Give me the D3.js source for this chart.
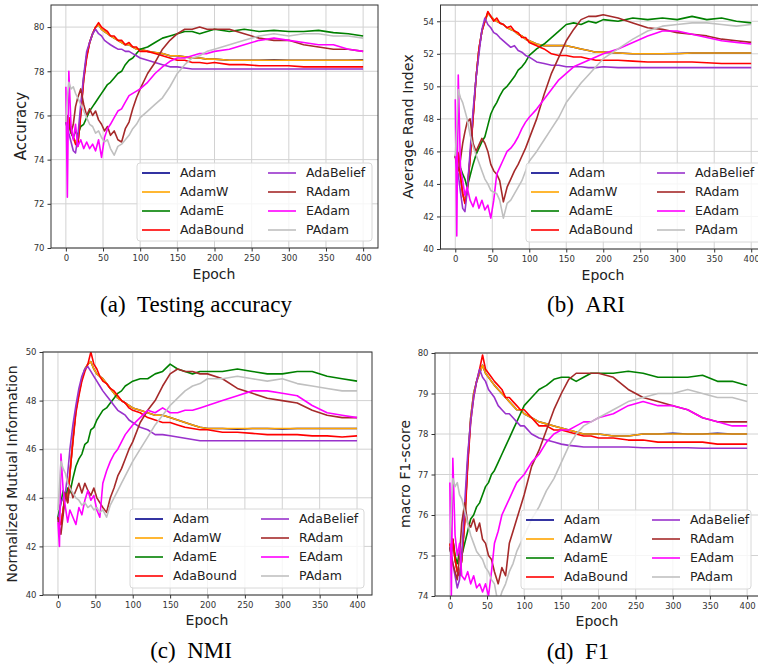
<!DOCTYPE html>
<html><head><meta charset="utf-8">
<script src="https://cdn.jsdelivr.net/npm/d3@7/dist/d3.min.js"></script>
<style>body{margin:0;background:#fff}svg{display:block}</style>
</head><body>
<svg id="chart" width="758" height="668"></svg>
<script>
// ---------- data ----------
const epochs = [0,2,4,7,10,13,16,20,24,28,32,36,40,44,48,52,56,60,65,70,75,80,85,90,95,100,110,120,130,140,150,160,170,180,190,200,220,240,260,280,300,320,340,360,380,400];
const optimizers = ["Adam","AdamW","AdamE","AdaBound","AdaBelief","RAdam","EAdam","PAdam"];
const xTicks = [0,50,100,150,200,250,300,350,400];
const yTicksAcc = [70,72,74,76,78,80];
const yTicksAri = [40,42,44,46,48,50,52,54];
const yTicksNmi = [40,42,44,46,48,50];
const yTicksF1 = [74,75,76,77,78,79,80];

// (a) Testing accuracy
const accAdam = [75.8,75.6,75.9,75.3,75.0,74.8,74.7,76.1,77.7,78.7,79.3,79.7,80.0,80.1,79.9,79.8,79.7,79.6,79.5,79.4,79.3,79.2,79.2,79.1,79.0,79.0,78.9,78.85,78.8,78.7,78.7,78.65,78.6,78.6,78.55,78.55,78.5,78.5,78.5,78.52,78.5,78.5,78.5,78.5,78.5,78.52];
const accAdamW = [75.8,75.6,75.9,75.3,75.0,74.8,74.7,76.2,77.7,78.7,79.3,79.7,80.0,80.1,79.9,79.8,79.7,79.6,79.5,79.4,79.3,79.2,79.2,79.1,79.0,79.0,78.9,78.85,78.8,78.7,78.7,78.65,78.6,78.6,78.55,78.55,78.5,78.5,78.5,78.5,78.5,78.5,78.5,78.5,78.5,78.5];
const accAdamE = [75.7,75.4,75.6,75.2,75.0,75.3,75.1,75.5,75.6,75.9,76.2,76.4,76.6,76.8,77.0,77.2,77.4,77.5,77.7,77.9,78.0,78.3,78.5,78.6,78.8,79.0,79.1,79.3,79.5,79.6,79.7,79.8,79.8,79.7,79.8,79.9,79.8,79.9,79.8,79.85,79.8,79.8,79.85,79.75,79.7,79.6];
const accAdaBound = [75.8,75.6,75.9,75.3,75.0,74.7,74.6,76.0,77.6,78.6,79.3,79.7,80.0,80.2,80.0,79.9,79.8,79.6,79.6,79.4,79.4,79.2,79.3,79.1,79.1,78.9,78.9,78.8,78.7,78.6,78.5,78.5,78.4,78.4,78.35,78.4,78.3,78.3,78.25,78.25,78.25,78.2,78.2,78.2,78.2,78.2];
const accAdaBelief = [75.7,75.5,75.2,74.8,74.4,74.3,75.0,76.5,77.8,78.9,79.3,79.7,79.9,79.7,79.6,79.4,79.3,79.2,79.1,79.0,79.0,78.9,78.9,78.8,78.7,78.6,78.5,78.4,78.3,78.2,78.2,78.15,78.1,78.1,78.1,78.1,78.1,78.1,78.1,78.1,78.1,78.1,78.1,78.1,78.1,78.1];
const accRAdam = [75.7,76.0,75.6,75.2,75.6,76.4,76.8,77.2,76.5,76.0,76.3,76.0,76.2,75.8,75.6,75.3,75.5,75.1,75.3,74.9,74.8,75.4,75.7,76.3,76.8,77.2,77.9,78.4,79.0,79.4,79.7,79.9,79.9,80.0,79.9,79.9,79.9,79.7,79.5,79.4,79.4,79.2,79.1,79.0,79.0,78.9];
const accEAdam = [77.3,72.3,78.0,75.5,74.9,75.6,74.6,74.9,74.5,74.8,74.5,74.7,74.4,74.9,74.1,75.0,75.4,75.6,75.9,76.2,76.3,76.6,76.9,77.0,77.1,77.2,77.5,77.9,78.2,78.45,78.6,78.6,78.7,78.8,78.8,78.9,79.0,79.2,79.4,79.5,79.4,79.3,79.2,79.2,79.0,78.9];
const accPAdam = [75.7,76.8,77.5,77.2,77.3,77.0,76.8,76.5,76.2,75.9,75.6,75.5,75.2,75.3,75.0,74.8,74.9,74.5,74.2,74.6,74.7,74.9,75.1,75.4,75.6,75.9,76.2,76.5,76.8,77.3,77.9,78.3,78.6,78.7,78.9,79.0,79.2,79.4,79.6,79.7,79.6,79.7,79.7,79.6,79.6,79.5];

// (b) ARI
const ariAdam = [45.7,45.3,45.9,44.5,43.4,42.9,43.6,45.6,48.1,50.5,52.3,53.4,54.0,54.5,54.3,54.1,54.0,53.9,53.8,53.6,53.5,53.4,53.2,53.1,52.9,52.8,52.6,52.5,52.5,52.5,52.5,52.4,52.3,52.2,52.1,52.1,52.05,52.0,52.0,52.0,52.02,52.05,52.05,52.05,52.05,52.05];
const ariAdamW = [45.7,45.3,45.9,44.5,43.4,42.9,43.6,45.6,48.1,50.5,52.3,53.4,54.0,54.5,54.3,54.1,54.0,53.9,53.8,53.6,53.5,53.4,53.2,53.1,52.9,52.8,52.6,52.5,52.5,52.5,52.5,52.4,52.3,52.2,52.1,52.1,52.05,52.0,52.0,52.0,52.0,52.05,52.05,52.05,52.05,52.05];
const ariAdamE = [45.7,45.4,45.8,45.0,44.6,44.3,43.8,44.5,45.2,45.8,46.2,46.6,46.9,47.6,48.3,48.7,49.0,49.4,49.8,50.0,50.3,50.6,51.0,51.2,51.5,51.9,52.3,52.6,53.0,53.4,53.8,53.9,53.8,54.0,53.9,54.1,54.0,54.2,54.1,54.2,54.1,54.3,54.1,54.2,54.0,53.9];
const ariAdaBound = [45.7,45.3,45.9,44.5,43.4,42.8,43.5,45.5,48.0,50.5,52.3,53.4,54.0,54.6,54.3,54.0,54.2,53.9,53.8,53.6,53.7,53.4,53.3,53.0,53.0,52.7,52.5,52.3,52.0,51.9,51.9,51.8,51.8,51.7,51.6,51.6,51.6,51.55,51.5,51.5,51.5,51.5,51.45,51.4,51.4,51.4];
const ariAdaBelief = [45.7,45.0,44.6,43.5,42.5,42.3,43.5,46.0,48.5,50.5,52.0,53.5,54.2,53.8,53.6,53.3,53.2,53.0,52.8,52.6,52.4,52.5,52.2,52.1,51.9,51.8,51.5,51.4,51.3,51.3,51.2,51.2,51.2,51.15,51.15,51.2,51.15,51.15,51.15,51.15,51.15,51.15,51.15,51.15,51.15,51.15];
const ariRAdam = [45.8,45.2,44.8,45.5,46.5,47.2,47.8,48.0,46.5,46.0,46.4,46.8,46.5,46.0,45.2,44.8,44.6,44.2,42.9,43.8,44.3,44.8,45.2,45.7,46.2,46.8,48.0,49.5,50.8,51.8,52.8,53.5,54.1,54.3,54.3,54.4,54.2,53.9,53.6,53.5,53.3,53.2,53.1,52.9,52.8,52.7];
const ariEAdam = [49.2,40.8,50.7,45.0,44.2,43.3,43.8,43.0,42.6,43.2,42.5,43.0,42.4,42.7,41.9,43.0,44.6,45.0,45.5,46.0,46.2,46.5,46.9,47.4,47.8,48.1,48.6,49.2,49.8,50.4,50.8,51.2,51.4,51.6,51.8,52.0,52.3,52.7,53.1,53.4,53.4,53.2,53.0,52.8,52.7,52.6];
const ariPAdam = [45.7,47.5,49.8,49.3,49.0,48.5,48.0,47.0,46.3,45.8,45.3,44.8,44.3,44.0,43.6,43.5,43.4,43.0,41.9,42.8,43.0,43.4,43.8,44.2,44.8,45.4,46.0,46.7,47.4,48.1,49.0,49.6,50.2,50.7,51.2,51.7,52.3,52.9,53.4,53.7,53.8,53.9,53.9,53.8,53.7,53.8];

// (c) NMI
const nmiAdam = [43.2,43.0,42.9,43.5,44.2,43.9,45.0,46.4,47.6,48.3,48.9,49.3,49.5,49.6,49.3,49.1,49.0,48.9,48.7,48.5,48.3,48.1,48.0,47.9,47.8,47.7,47.6,47.5,47.4,47.4,47.3,47.2,47.1,47.0,46.9,46.85,46.85,46.82,46.85,46.85,46.83,46.85,46.85,46.85,46.85,46.85];
const nmiAdamW = [43.2,43.0,42.9,43.5,44.2,43.9,45.0,46.4,47.6,48.3,48.9,49.3,49.5,49.6,49.3,49.1,49.0,48.9,48.7,48.5,48.3,48.1,48.0,47.9,47.8,47.7,47.6,47.5,47.4,47.4,47.3,47.2,47.1,47.0,46.9,46.85,46.85,46.85,46.85,46.85,46.85,46.85,46.85,46.85,46.85,46.85];
const nmiAdamE = [43.2,43.5,43.8,44.3,44.0,44.4,44.2,44.8,45.3,45.6,45.8,46.2,46.3,46.8,46.9,47.2,47.4,47.6,47.7,47.9,48.1,48.3,48.4,48.6,48.7,48.8,48.9,48.9,49.1,49.2,49.5,49.3,49.2,49.1,49.2,49.2,49.2,49.3,49.2,49.1,49.1,49.2,49.2,49.0,48.9,48.8];
const nmiAdaBound = [43.2,43.0,42.9,43.5,44.2,43.8,45.0,46.3,47.5,48.2,48.8,49.2,49.5,50.0,49.5,49.3,49.0,48.8,48.7,48.5,48.4,48.2,48.0,47.9,47.7,47.6,47.5,47.3,47.2,47.1,47.1,47.0,46.9,46.85,46.8,46.8,46.7,46.7,46.65,46.6,46.6,46.6,46.55,46.55,46.5,46.55];
const nmiAdaBelief = [43.0,43.4,43.8,44.0,44.2,45.0,46.0,47.0,47.8,48.5,49.0,49.3,49.4,49.2,49.0,48.8,48.6,48.4,48.2,48.0,47.8,47.6,47.5,47.4,47.2,47.1,46.9,46.8,46.6,46.6,46.55,46.5,46.45,46.4,46.35,46.35,46.35,46.35,46.35,46.35,46.35,46.35,46.35,46.35,46.35,46.35];
const nmiRAdam = [43.2,42.8,42.5,43.3,44.2,43.8,44.5,44.0,44.3,44.6,44.2,44.6,44.3,44.1,44.4,44.0,43.8,43.6,43.4,44.0,44.4,44.9,45.2,45.6,46.0,46.3,47.1,47.6,48.0,48.6,49.1,49.3,49.2,49.2,49.1,49.1,48.9,48.5,48.3,48.1,48.0,47.9,47.6,47.4,47.3,47.3];
const nmiEAdam = [43.0,42.0,45.8,44.3,43.6,43.0,43.5,43.2,42.9,43.6,43.3,43.9,44.3,43.9,44.1,43.5,43.2,44.6,45.1,45.5,45.8,46.0,46.3,46.6,46.8,47.0,47.3,47.6,47.5,47.7,47.5,47.5,47.6,47.6,47.7,47.8,48.0,48.2,48.4,48.4,48.3,48.2,47.8,47.5,47.4,47.3];
const nmiPAdam = [43.5,44.5,45.5,45.2,45.0,44.6,44.4,44.2,44.0,43.9,43.7,43.8,43.6,43.7,43.5,43.6,43.4,43.5,43.2,43.7,44.0,44.3,44.6,44.9,45.2,45.5,46.0,46.5,47.0,47.4,47.8,48.1,48.4,48.6,48.7,48.9,48.9,49.0,48.9,48.8,48.9,48.7,48.6,48.5,48.4,48.4];

// (d) F1
const f1Adam = [75.3,75.1,75.4,74.9,74.6,74.5,74.9,75.9,77.3,78.4,79.0,79.3,79.5,79.7,79.5,79.4,79.3,79.2,79.1,79.0,78.9,78.8,78.7,78.6,78.6,78.5,78.4,78.3,78.25,78.2,78.15,78.1,78.05,78.0,78.0,78.0,77.95,77.95,78.0,78.0,78.02,78.0,78.0,78.02,78.0,78.0];
const f1AdamW = [75.3,75.1,75.4,74.9,74.6,74.5,74.9,75.9,77.3,78.4,79.0,79.3,79.5,79.7,79.5,79.4,79.3,79.2,79.1,79.0,78.9,78.8,78.7,78.6,78.6,78.5,78.4,78.3,78.25,78.2,78.15,78.1,78.05,78.0,78.0,78.0,77.95,77.95,78.0,78.0,78.0,78.0,78.0,78.0,78.0,78.0];
const f1AdamE = [75.2,75.0,75.4,75.0,74.8,75.1,75.0,75.3,75.6,75.9,76.0,76.2,76.3,76.5,76.7,76.8,77.0,77.1,77.3,77.5,77.7,77.9,78.1,78.3,78.5,78.7,78.9,79.1,79.2,79.35,79.4,79.4,79.3,79.4,79.5,79.5,79.5,79.55,79.5,79.4,79.4,79.4,79.45,79.3,79.3,79.2];
const f1AdaBound = [75.3,75.1,75.4,74.9,74.6,74.5,74.9,75.8,77.2,78.3,78.9,79.3,79.6,79.95,79.6,79.5,79.4,79.3,79.2,79.1,78.9,78.9,78.8,78.7,78.6,78.6,78.4,78.2,78.2,78.1,78.1,78.05,78.0,77.95,77.95,77.9,77.9,77.85,77.85,77.8,77.8,77.8,77.8,77.75,77.75,77.75];
const f1AdaBelief = [75.2,75.0,74.8,74.5,74.2,74.4,75.0,76.3,77.5,78.3,78.9,79.3,79.6,79.4,79.3,79.1,79.0,78.9,78.7,78.6,78.5,78.5,78.4,78.3,78.2,78.2,78.0,77.9,77.85,77.8,77.75,77.72,77.7,77.68,77.68,77.68,77.68,77.68,77.66,77.66,77.66,77.66,77.65,77.65,77.65,77.65];
const f1RAdam = [75.2,75.0,74.8,74.6,74.4,75.0,75.8,76.3,75.8,75.7,75.9,75.6,75.8,75.4,75.3,75.0,74.9,74.6,74.3,74.7,74.5,75.3,75.6,75.9,76.2,76.5,77.2,77.6,78.1,78.6,79.0,79.35,79.5,79.5,79.5,79.5,79.4,79.1,78.9,78.8,78.7,78.6,78.4,78.3,78.3,78.3];
const f1EAdam = [76.8,74.0,77.4,75.5,75.0,75.3,74.5,74.4,74.6,74.3,74.5,74.2,74.3,74.1,74.3,74.0,74.6,75.3,75.6,76.0,76.2,76.4,76.6,76.8,76.9,77.0,77.3,77.5,77.8,78.0,78.1,78.1,78.2,78.3,78.3,78.4,78.5,78.7,78.8,78.7,78.7,78.6,78.4,78.3,78.2,78.2];
const f1PAdam = [75.3,76.2,76.9,76.7,76.8,76.5,76.4,76.1,75.8,75.5,75.3,75.1,75.0,74.9,74.7,74.6,74.4,74.3,73.8,74.1,74.3,74.6,74.8,75.1,75.3,75.5,75.9,76.2,76.6,76.9,77.3,77.7,78.0,78.2,78.3,78.4,78.6,78.8,78.9,79.0,79.0,79.1,79.0,78.9,78.9,78.8];

// ---------- styles & layout ----------
const colors = {Adam:"#00008b",AdamW:"#ffa500",AdamE:"#008000",AdaBound:"#ff0000",AdaBelief:"#9932cc",RAdam:"#a52a2a",EAdam:"#ff00ff",PAdam:"#c0c0c0"};
const FONT = "'DejaVu Sans', sans-serif";
const SERIF = "'Liberation Serif', 'Times New Roman', serif";

const panels = [
  {id:"a", series:[accAdam,accAdamW,accAdamE,accAdaBound,accAdaBelief,accRAdam,accEAdam,accPAdam],
   box:{l:51,t:5,r:378,b:248}, yDom:[70,81], yTicks:yTicksAcc, ylabel:"Accuracy", ylsize:15, ylx:21, yly:126,
   xlx:214, xly:279, caption:"(a)\u2002Testing accuracy", capx:196, capy:312, leg:{l:137,t:163,r:372,b:241}},
  {id:"b", series:[ariAdam,ariAdamW,ariAdamE,ariAdaBound,ariAdaBelief,ariRAdam,ariEAdam,ariPAdam],
   box:{l:440.5,t:5,r:766,b:249}, yDom:[40,55], yTicks:yTicksAri, ylabel:"Average Rand Index", ylsize:14.4, ylx:408, yly:126.5,
   xlx:603, xly:280, caption:"(b)\u2002ARI", capx:586, capy:312, leg:{l:526,t:163,r:770,b:242}},
  {id:"c", series:[nmiAdam,nmiAdamW,nmiAdamE,nmiAdaBound,nmiAdaBelief,nmiRAdam,nmiEAdam,nmiPAdam],
   box:{l:43,t:352,r:372,b:595}, yDom:[40,50], yTicks:yTicksNmi, ylabel:"Normalized Mutual Information", ylsize:14, ylx:12, yly:474,
   xlx:207, xly:625, caption:"(c)\u2002NMI", capx:191, capy:658, leg:{l:130,t:509,r:364,b:588}},
  {id:"d", series:[f1Adam,f1AdamW,f1AdamE,f1AdaBound,f1AdaBelief,f1RAdam,f1EAdam,f1PAdam],
   box:{l:435,t:353,r:762,b:596}, yDom:[74,80], yTicks:yTicksF1, ylabel:"macro F1-score", ylsize:14, ylx:405, yly:474,
   xlx:597, xly:626, caption:"(d)\u2002F1", capx:578, capy:659, leg:{l:521,t:510,r:751,b:589}}
];

const svg = d3.select("#chart");

panels.forEach(p => {
  const g = svg.append("g");
  const {l,t,r,b} = p.box;
  const x = d3.scaleLinear().domain([-20,420]).range([l,r]);
  const y = d3.scaleLinear().domain(p.yDom).range([b,t]);

  // grid
  g.append("g").selectAll("line").data(xTicks).join("line")
    .attr("x1",d=>x(d)).attr("x2",d=>x(d)).attr("y1",t).attr("y2",b)
    .attr("stroke","#d2d2d2").attr("stroke-width",1);
  g.append("g").selectAll("line").data(p.yTicks).join("line")
    .attr("x1",l).attr("x2",r).attr("y1",d=>y(d)).attr("y2",d=>y(d))
    .attr("stroke","#d2d2d2").attr("stroke-width",1);

  // clip
  const cid = "clip-" + p.id;
  svg.append("clipPath").attr("id",cid).append("rect")
    .attr("x",l).attr("y",t).attr("width",r-l).attr("height",b-t);

  const line = d3.line().x((d,i)=>x(epochs[i])).y(d=>y(d));
  const lines = g.append("g").attr("clip-path",`url(#${cid})`);
  p.series.forEach((vals,k) => {
    lines.append("path").datum(vals).attr("d",line)
      .attr("fill","none").attr("stroke",colors[optimizers[k]])
      .attr("stroke-width",1.6).attr("stroke-linejoin","round");
  });

  // axes
  const xAxis = d3.axisBottom(x).tickValues(xTicks).tickSize(3.5).tickPadding(3).tickFormat(d3.format("d"));
  const yAxis = d3.axisLeft(y).tickValues(p.yTicks).tickSize(3.5).tickPadding(3).tickFormat(d3.format("d"));
  const gx = g.append("g").attr("transform",`translate(0,${b})`).call(xAxis);
  const gy = g.append("g").attr("transform",`translate(${l},0)`).call(yAxis);
  [gx,gy].forEach(ax => {
    ax.select(".domain").remove();
    ax.selectAll(".tick line").attr("stroke","#333");
    ax.selectAll(".tick text").attr("fill","#333").style("font-family",FONT).style("font-size","8.5px");
  });

  // frame
  g.append("rect").attr("x",l).attr("y",t).attr("width",r-l).attr("height",b-t)
    .attr("fill","none").attr("stroke","#333").attr("stroke-width",1);

  // legend
  const L = p.leg;
  const lg = g.append("g");
  lg.append("rect").attr("x",L.l).attr("y",L.t).attr("width",L.r-L.l).attr("height",L.b-L.t)
    .attr("rx",3).attr("fill","#fff").attr("fill-opacity",0.8).attr("stroke","#d8d8d8");
  optimizers.forEach((name,k) => {
    const col = Math.floor(k/4), row = k%4;
    const cy = L.t + 10 + row*19;
    const x0 = L.l + (col ? 131 : 5);
    lg.append("line").attr("x1",x0).attr("x2",x0+28).attr("y1",cy).attr("y2",cy)
      .attr("stroke",colors[name]).attr("stroke-width",1.6);
    lg.append("text").attr("x",x0+38).attr("y",cy).attr("dy","0.35em")
      .style("font-family",FONT).style("font-size","12.5px").attr("fill","#222").text(name);
  });

  // labels
  g.append("text").attr("x",p.xlx).attr("y",p.xly).attr("text-anchor","middle")
    .style("font-family",FONT).style("font-size","14px").attr("fill","#222").text("Epoch");
  g.append("text").attr("transform",`translate(${p.ylx},${p.yly}) rotate(-90)`)
    .attr("text-anchor","middle").attr("dy","0.35em")
    .style("font-family",FONT).style("font-size",p.ylsize+"px").attr("fill","#222").text(p.ylabel);
  g.append("text").attr("x",p.capx).attr("y",p.capy).attr("text-anchor","middle")
    .style("font-family",SERIF).style("font-size","23px").attr("fill","#000").text(p.caption);
});
</script>
</body></html>
